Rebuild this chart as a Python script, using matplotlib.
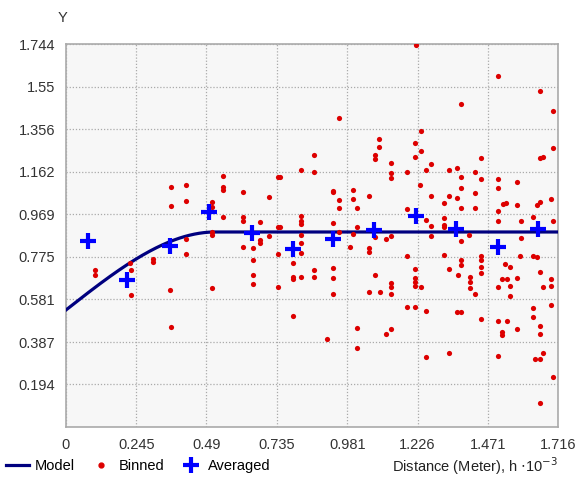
import numpy as np
import matplotlib
matplotlib.use("Agg")
import matplotlib.pyplot as plt
from matplotlib.lines import Line2D

plt.rcParams['font.family'] = ['Liberation Sans', 'DejaVu Sans']

binned = [
(0.101,0.692),(0.101,0.715),
(0.223,0.747),(0.227,0.715),(0.227,0.601),
(0.303,0.765),(0.303,0.751),
(0.366,1.093),(0.366,1.006),(0.363,0.624),(0.366,0.455),
(0.419,1.102),(0.419,1.029),(0.419,0.856),(0.419,0.788),
(0.509,1.025),(0.509,1.002),(0.509,0.888),(0.509,0.874),(0.509,0.633),
(0.548,1.143),(0.548,1.093),(0.548,1.079),(0.548,0.956),
(0.617,1.070),(0.617,0.956),(0.617,0.938),(0.617,0.820),
(0.652,0.815),(0.652,0.760),(0.652,0.692),(0.652,0.651),
(0.677,0.934),(0.677,0.852),(0.677,0.838),
(0.708,1.047),(0.708,0.870),
(0.739,1.138),(0.739,0.911),(0.739,0.788),(0.739,0.638),
(1.221,1.740),(1.507,1.598),(1.653,1.530),(1.378,1.471),(1.699,1.439),(0.952,1.407),(1.238,1.348),(1.092,1.311),(1.092,1.275),(1.217,1.293),(1.238,1.257),(1.699,1.270),(0.865,1.239),(1.078,1.239),(1.078,1.220),(1.217,1.230),(1.447,1.225),(1.653,1.225),(1.664,1.230),(1.134,1.202),(1.273,1.198),(0.820,1.170),(0.865,1.161),(1.189,1.161),(1.256,1.170),(1.336,1.170),(1.364,1.179),(1.427,1.161),(1.134,1.157),(1.134,1.134),(1.378,1.138),(1.447,1.129),(1.507,1.129),(1.573,1.116),(1.235,1.102),(0.746,1.138),(1.507,1.088),(0.931,1.075),(0.931,1.070),(1.001,1.079),(1.001,1.038),(1.378,1.088),(1.057,1.052),(1.273,1.052),(1.336,1.052),(1.364,1.043),(1.427,1.066),(0.952,1.034),(0.952,0.997),(1.015,0.997),(1.318,1.020),(1.378,0.997),(1.427,0.997),(1.507,0.984),(1.524,1.015),(1.535,1.020),(1.573,1.011),(1.643,1.011),(1.653,1.025),(1.692,1.038),(1.189,0.993),(0.820,0.961),(0.820,0.938),(0.820,0.924),(0.931,0.929),(1.256,0.943),(1.273,0.915),(1.318,0.952),(1.318,0.920),(1.318,0.911),(1.507,0.938),(1.587,0.938),(1.629,0.956),(1.699,0.938),(1.015,0.911),(0.952,0.888),(1.001,0.879),(1.078,0.865),(1.134,0.870),(1.116,0.856),(1.273,0.870),(1.406,0.874),(0.820,0.874),(0.746,0.911),(1.378,0.847),(1.587,0.861),
(0.820,0.838),(0.820,0.792),(0.991,0.820),(1.057,0.815),(1.057,0.797),(1.189,0.779),(0.792,0.747),(1.318,0.783),(1.378,0.760),(1.378,0.738),(1.447,0.779),(1.447,0.760),(1.447,0.729),(1.447,0.701),(1.584,0.779),(1.629,0.779),(1.643,0.774),(0.865,0.715),(0.865,0.683),(0.931,0.724),(0.931,0.679),(0.931,0.606),(0.792,0.683),(0.792,0.674),(0.820,0.683),(1.078,0.692),(1.217,0.719),(1.217,0.679),(1.217,0.660),(1.217,0.642),(1.238,0.638),(1.336,0.719),(1.367,0.692),(1.409,0.683),(1.409,0.660),(1.409,0.633),(1.427,0.606),(1.507,0.638),(1.521,0.674),(1.538,0.674),(1.549,0.642),(1.549,0.597),(1.531,0.742),(1.549,0.729),(1.573,0.679),(1.653,0.706),(1.692,0.674),(1.692,0.642),(1.664,0.638),(1.057,0.615),(1.095,0.615),(1.134,0.656),(1.134,0.638),(1.134,0.606),(1.189,0.546),(1.217,0.546),(1.256,0.528),(0.792,0.505),(1.364,0.524),(1.378,0.524),(1.447,0.492),(1.507,0.483),(1.538,0.483),(1.521,0.433),(1.521,0.419),(1.573,0.446),(1.629,0.542),(1.629,0.501),(1.692,0.556),(1.653,0.460),(1.653,0.424),(1.015,0.451),(1.116,0.424),(1.134,0.446),(0.910,0.401),(1.015,0.360),(1.256,0.319),(1.336,0.337),(1.507,0.323),(1.636,0.310),(1.653,0.310),(1.664,0.337),(1.699,0.228),(1.653,0.109),
]
avg_x = [0.077,0.213,0.363,0.499,0.649,0.792,0.931,1.074,1.221,1.360,1.507,1.646]
avg_y = [0.847,0.669,0.824,0.979,0.883,0.811,0.856,0.897,0.961,0.902,0.820,0.902]
nugget, sill, rng = 0.533, 0.888, 0.52
xticks = [0, 0.245, 0.49, 0.735, 0.981, 1.226, 1.471, 1.716]
yticks = [0.194, 0.387, 0.581, 0.775, 0.969, 1.162, 1.356, 1.55, 1.744]
xtl = ['0','0.245','0.49','0.735','0.981','1.226','1.471','1.716']
ytl = ['0.194','0.387','0.581','0.775','0.969','1.162','1.356','1.55','1.744']

fig = plt.figure(figsize=(5.82, 4.82), dpi=100)
ax = fig.add_axes([66/582, 55/482, 492/582, 383/482])
ax.set_facecolor('#f7f7f7')
ax.set_xlim(0, 1.716); ax.set_ylim(0, 1.744)
ax.set_xticks(xticks); ax.set_xticklabels(xtl)
ax.set_yticks(yticks); ax.set_yticklabels(ytl)
ax.tick_params(length=0, labelsize=10.5, colors='#333333', pad=8)
ax.grid(True, linestyle=(0, (1, 1.5)), color='#aaaaaa', linewidth=0.9)
for s in ax.spines.values():
    s.set_color('#aaaaaa'); s.set_linewidth(1.2)

h = np.linspace(0, 1.716, 400)
r = np.minimum(h / rng, 1)
g = nugget + (sill - nugget) * (1.5 * r - 0.5 * r ** 3)
ax.plot(h, g, color='#00007f', lw=2.3, zorder=3)
bx, by = zip(*binned)
ax.scatter(bx, by, s=14, color='#dd0000', zorder=4, linewidths=0)
ax.scatter(avg_x, avg_y, marker='+', s=130, color='#0000ff', linewidths=3, zorder=5)

fig.text(62/582, 1 - 18/482, 'Y', fontsize=10.5, color='#333333', ha='center', va='center')
fig.text(558/582, 1 - 466/482, 'Distance (Meter), h $\\cdot$10$^{-3}$', fontsize=10.5,
         color='#222222', ha='right', va='center')
handles = [Line2D([], [], color='#00007f', lw=2.3),
           Line2D([], [], marker='o', ls='', color='#dd0000', ms=3.5),
           Line2D([], [], marker='+', ls='', color='#0000ff', ms=11, mew=3)]
fig.legend(handles, ['Model', 'Binned', 'Averaged'], loc='center left',
           bbox_to_anchor=(0.0, 1 - 466/482), ncol=3, frameon=False, fontsize=10.5,
           handlelength=1.6, handletextpad=0.4, columnspacing=1.0, borderaxespad=0)
fig.savefig('out.png', dpi=100)
